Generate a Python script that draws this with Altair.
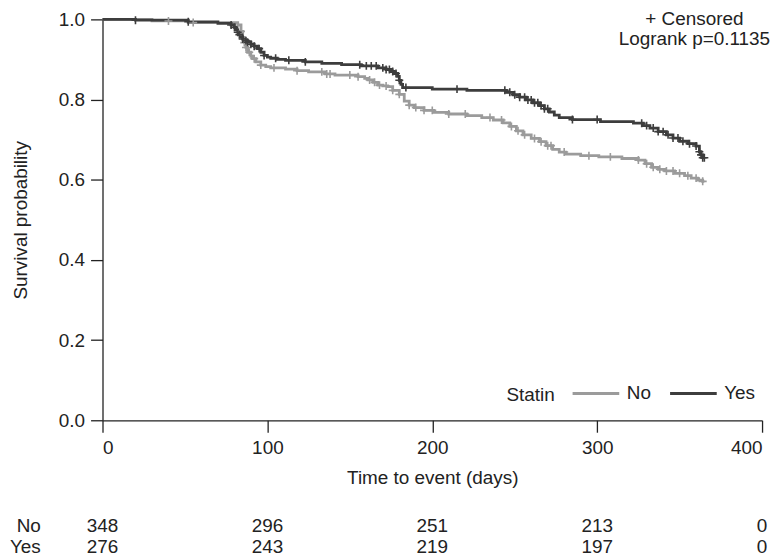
import altair as alt
import pandas as pd

# ---- data ----
groups = ["No", "Yes"]

yes_days = [0, 20, 52, 70, 78, 80, 81, 82, 83, 84, 85, 86, 88, 90, 92, 94, 96, 98, 100, 102, 106,
            111, 123, 133, 145, 157, 167, 172, 175, 177, 179, 180, 181, 182, 200, 221, 245, 249,
            253, 257, 261, 265, 268, 271, 274, 277, 285, 302, 322, 328, 332, 337, 342, 346, 350,
            355, 360, 362, 363, 364, 365]
yes_surv = [1.0, 0.998, 0.994, 0.990, 0.986, 0.980, 0.974, 0.968, 0.962, 0.956, 0.951, 0.947,
            0.943, 0.938, 0.933, 0.927, 0.918, 0.910, 0.906, 0.903, 0.900, 0.898, 0.894, 0.890,
            0.887, 0.884, 0.879, 0.875, 0.870, 0.865, 0.858, 0.848, 0.838, 0.830, 0.826, 0.823,
            0.818, 0.812, 0.806, 0.799, 0.792, 0.785, 0.777, 0.769, 0.761, 0.755, 0.750, 0.745,
            0.741, 0.735, 0.729, 0.720, 0.712, 0.704, 0.696, 0.690, 0.684, 0.670, 0.662, 0.655,
            0.655]

no_days = [0, 30, 52, 82, 84, 85, 86, 87, 88, 90, 91, 93, 96, 99, 102, 111, 118, 125, 135, 141,
           155, 159, 161, 164, 167, 170, 173, 176, 180, 183, 186, 189, 195, 201, 210, 221, 230,
           237, 243, 247, 251, 255, 260, 265, 269, 273, 277, 281, 290, 301, 315, 325, 329, 333,
           337, 341, 347, 353, 357, 361, 364, 365]
no_surv = [1.0, 0.996, 0.992, 0.986, 0.970, 0.955, 0.942, 0.930, 0.918, 0.908, 0.902, 0.894,
           0.886, 0.882, 0.879, 0.876, 0.872, 0.869, 0.864, 0.861, 0.857, 0.853, 0.849, 0.843,
           0.836, 0.834, 0.832, 0.823, 0.813, 0.796, 0.786, 0.780, 0.773, 0.768, 0.764, 0.760,
           0.755, 0.749, 0.742, 0.733, 0.722, 0.712, 0.703, 0.695, 0.685, 0.676, 0.669, 0.664,
           0.660, 0.657, 0.653, 0.649, 0.640, 0.631, 0.626, 0.622, 0.616, 0.610, 0.604, 0.599,
           0.596, 0.596]

yes_censored = [20, 52, 78, 80, 82, 83, 85, 87, 88, 90, 92, 95, 98, 105, 113, 123, 156, 160, 163,
                166, 170, 172, 174, 176, 178, 180, 184, 215, 244, 247, 250, 253, 256, 258, 260,
                262, 264, 266, 268, 270, 285, 300, 327, 330, 334, 337, 340, 343, 346, 349, 352,
                356, 360, 362, 363, 364, 365]
no_censored = [40, 55, 84, 86, 87, 89, 92, 96, 104, 118, 133, 136, 138, 150, 155, 162, 165, 168,
               172, 176, 180, 186, 190, 195, 200, 210, 220, 235, 242, 248, 252, 256, 262, 266,
               270, 272, 280, 295, 308, 325, 330, 334, 338, 342, 346, 350, 355, 360, 364]

risk_times = [0, 100, 200, 300, 400]
risk_no = [348, 296, 251, 213, 0]
risk_yes = [276, 243, 219, 197, 0]

note_lines = ["+ Censored", "Logrank p=0.1135"]

# ---- tables ----
curve_df = pd.concat([
    pd.DataFrame({"group": "No", "day": no_days, "surv": no_surv}),
    pd.DataFrame({"group": "Yes", "day": yes_days, "surv": yes_surv}),
])


def step_value(days, surv, t):
    v = surv[0]
    for d, s in zip(days, surv):
        if d <= t:
            v = s
    return v


cens_rows = []
for t in no_censored:
    cens_rows.append({"group": "No", "day": t, "surv": step_value(no_days, no_surv, t)})
for t in yes_censored:
    cens_rows.append({"group": "Yes", "day": t, "surv": step_value(yes_days, yes_surv, t)})
cens_df = pd.DataFrame(cens_rows)

risk_df = pd.concat([
    pd.DataFrame({"group": "No", "day": risk_times, "n": risk_no}),
    pd.DataFrame({"group": "Yes", "day": risk_times, "n": risk_yes}),
])
label_df = pd.DataFrame({"group": groups})

FONT = "Liberation Sans"
FS = 19
TXT = "#222222"
colors = ["#9b9b9b", "#3d3d3d"]
color_scale = alt.Scale(domain=groups, range=colors)

x_enc = alt.X("day:Q", scale=alt.Scale(domain=[0, 400], nice=False),
              axis=alt.Axis(values=risk_times, title="Time to event (days)", grid=False,
                            tickSize=12, labelPadding=6, titlePadding=12, format="d"))
y_enc = alt.Y("surv:Q", scale=alt.Scale(domain=[0, 1], nice=False),
              axis=alt.Axis(values=[0, 0.2, 0.4, 0.6, 0.8, 1.0], format=".1f",
                            title="Survival probability", grid=False, tickSize=12,
                            labelPadding=6, titlePadding=28))

lines = alt.Chart(curve_df).mark_line(interpolate="step-after", strokeWidth=2.8).encode(
    x=x_enc, y=y_enc,
    color=alt.Color("group:N", scale=color_scale,
                    legend=alt.Legend(title="Statin", orient="none", legendX=406, legendY=351,
                                      direction="horizontal",
                                      titleOrient="left", titleAnchor="middle",
                                      titleBaseline="top",
                                      symbolType="stroke", symbolSize=2200,
                                      symbolStrokeWidth=3, labelFontSize=FS, titleFontSize=FS,
                                      titleFontWeight="normal", titleFont=FONT, labelFont=FONT,
                                      labelColor=TXT, titleColor=TXT, titlePadding=16,
                                      labelOffset=6, columnPadding=12)),
)

markers = alt.Chart(cens_df).mark_point(shape="M-1,0L1,0M0,-1L0,1", filled=False, size=64,
                                        strokeWidth=1.6, opacity=1).encode(
    x="day:Q", y="surv:Q",
    stroke=alt.Stroke("group:N", scale=color_scale, legend=None),
)

survival = alt.layer(lines, markers)

risk_y = alt.Y("group:N", scale=alt.Scale(domain=groups, range=[509, 530], padding=0), axis=None)

risk = alt.Chart(risk_df).mark_text(font=FONT, fontSize=FS, color=TXT, baseline="middle").encode(
    x="day:Q", y=risk_y, text="n:N")

risk_labels = alt.Chart(label_df).mark_text(font=FONT, fontSize=FS, color=TXT, align="right",
                                            baseline="middle").encode(
    x=alt.value(-62), y=risk_y, text="group:N")

note = alt.Chart(pd.DataFrame({"k": [0]})).mark_text(
    text=note_lines, font=FONT, fontSize=FS, color=TXT,
    align="center", baseline="middle", lineHeight=20).encode(
    x=alt.value(595), y=alt.value(0))

chart = alt.layer(survival, risk, risk_labels, note).resolve_scale(
    y="independent"
).properties(
    width=663, height=403,
    autosize=alt.AutoSizeParams(type="none"),
    padding={"left": 95, "top": 10, "right": 10, "bottom": 136},
).configure_view(stroke=None).configure_axis(
    labelFont=FONT, titleFont=FONT, labelFontSize=FS, titleFontSize=FS,
    titleFontWeight="normal", labelColor=TXT, titleColor=TXT,
    domainColor=TXT, tickColor=TXT, domainWidth=1.3, tickWidth=1.3,
)

chart.save("out.html", embed_options={"renderer": "svg", "actions": False})
